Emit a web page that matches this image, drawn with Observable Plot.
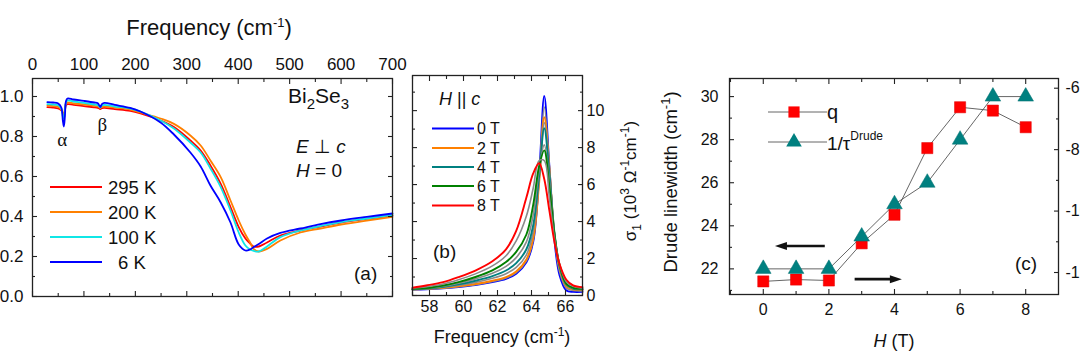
<!DOCTYPE html>
<html><head><meta charset="utf-8">
<script src="https://cdn.jsdelivr.net/npm/d3@7"></script>
<script src="https://cdn.jsdelivr.net/npm/@observablehq/plot@0.6"></script>
<style>
html,body{margin:0;padding:0;background:#fff;}
#wrap{position:relative;width:1080px;height:362px;overflow:hidden;background:#fff;}
#wrap svg{position:absolute;left:0;top:0;}
</style></head><body><div id="wrap"></div>
<script>
// ---------- Panel (a): reflectance vs frequency ----------
const freqA = [29,40,50,56,59,61,63,65,68,80,100,120,127,130,132,135,140,160,190,210,249,275,307,327,346,366,385,401,414,423,430,440,456,482,521,560,600,650,700];
const r295K = [0.947,0.945,0.94,0.93,0.915,0.91,0.93,0.955,0.962,0.958,0.952,0.946,0.943,0.94,0.937,0.942,0.943,0.937,0.928,0.915,0.88,0.847,0.78,0.73,0.655,0.563,0.447,0.347,0.29,0.265,0.25,0.25,0.27,0.305,0.33,0.35,0.37,0.388,0.405];
const r200K = [0.955,0.952,0.948,0.935,0.915,0.91,0.94,0.965,0.97,0.965,0.96,0.953,0.95,0.946,0.943,0.948,0.95,0.944,0.935,0.92,0.89,0.863,0.805,0.755,0.68,0.597,0.48,0.38,0.31,0.27,0.238,0.225,0.238,0.28,0.32,0.34,0.36,0.38,0.398];
const r100K = [0.962,0.96,0.956,0.94,0.9,0.89,0.925,0.97,0.98,0.975,0.968,0.96,0.957,0.95,0.945,0.955,0.958,0.95,0.94,0.925,0.88,0.84,0.77,0.72,0.64,0.547,0.43,0.32,0.255,0.235,0.228,0.225,0.25,0.297,0.33,0.352,0.372,0.39,0.408];
const r6K   = [0.972,0.97,0.965,0.945,0.88,0.85,0.90,0.975,0.99,0.985,0.978,0.97,0.966,0.955,0.947,0.962,0.968,0.958,0.943,0.925,0.87,0.81,0.72,0.65,0.555,0.47,0.37,0.26,0.23,0.235,0.247,0.262,0.29,0.318,0.34,0.362,0.38,0.398,0.415];
const tempLabels = ["295 K","200 K","100 K","6 K"];
const tempColors = ["#ff0000","#ff8000","#10e6e6","#0000ff"];
const freqTicksA = [0,100,200,300,400,500,600,700];
const reflTicks = [0,0.2,0.4,0.6,0.8,1.0];

// ---------- Panel (b): sigma_1 near the alpha phonon ----------
const freqB = [57,57.8,58.8,59.7,60.7,61.7,62.5,63.1,63.7,64.1,64.45,64.75,65.05,65.35,65.65,66.05,66.45,67];
const s0T = [0.32,0.34,0.39,0.46,0.56,0.72,0.90,1.18,1.80,2.90,6.5,10.8,7.0,3.0,1.1,0.27,0.2,0.2];
const s1T = [0.32,0.35,0.40,0.48,0.59,0.76,0.95,1.24,1.88,3.0,6.3,10.2,7.0,3.2,1.3,0.4,0.27,0.25];
const s2T = [0.33,0.36,0.42,0.50,0.62,0.80,1.00,1.30,1.95,3.10,6.1,9.65,6.9,3.3,1.5,0.5,0.33,0.3];
const s3T = [0.33,0.37,0.45,0.55,0.71,0.93,1.18,1.52,2.2,3.45,6.3,9.35,6.8,3.35,1.55,0.55,0.36,0.32];
const s4T = [0.34,0.38,0.47,0.60,0.80,1.05,1.35,1.75,2.50,3.80,6.5,9.05,6.6,3.4,1.6,0.6,0.38,0.33];
const s5T = [0.35,0.39,0.50,0.66,0.90,1.20,1.58,2.05,2.9,4.35,6.8,8.15,6.2,3.35,1.6,0.62,0.4,0.35];
const s6T = [0.36,0.40,0.54,0.72,1.00,1.36,1.81,2.36,3.30,4.90,7.0,7.85,5.9,3.3,1.65,0.63,0.42,0.36];
const s7T = [0.39,0.47,0.62,0.85,1.17,1.60,2.15,2.95,4.3,5.8,7.3,7.3,5.3,3.1,1.7,0.75,0.5,0.4];
const s8T = [0.42,0.54,0.72,0.99,1.35,1.85,2.50,3.50,5.30,6.60,7.15,6.3,4.6,2.9,1.7,0.85,0.55,0.45];
const fieldLabelsB = ["0 T","2 T","4 T","6 T","8 T"];
const fieldColorsB = ["#0000ff","#ff8000","#008080","#008000","#ff0000"];
const grayColor = "#8a8a8a";
const freqTicksB = [58,60,62,64,66];
const sigmaTicks = [0,2,4,6,8,10];

// ---------- Panel (c): q and Drude linewidth vs field ----------
const fieldC = [0,1,2,3,4,5,6,7,8];
const qFano = [-12.29,-12.23,-12.26,-11.05,-10.12,-7.95,-6.62,-6.73,-7.27];
const invTauDrude = [22,22,22,23.5,25,26,28,30,30];
const fieldTicksC = [0,2,4,6,8];
const widthTicks = [22,24,26,28,30];
const qTicks = [-6,-8,-10,-12];

const W = 1080, H = 362;
const FONT = '"Liberation Sans", Arial, Helvetica, sans-serif';
const SERIF = '"Liberation Serif", "Times New Roman", serif';
const wrap = document.getElementById("wrap");

function frameTicks(dim, anchor, major, minor, majorSize, minorSize) {
  const ax = dim === "x" ? Plot.axisX : Plot.axisY;
  return [
    ax(major, {anchor, tickSize: -majorSize, fill: "none", stroke: "#222", strokeWidth: 1.1}),
    ax(minor, {anchor, tickSize: -minorSize, fill: "none", stroke: "#222", strokeWidth: 1.1})
  ];
}

function addText(svg, x, y, parts, opts = {}) {
  const t = svg.append("text")
    .attr("x", x).attr("y", y)
    .attr("font-family", opts.family || FONT)
    .attr("font-size", opts.size || 17)
    .attr("fill", "#111")
    .attr("text-anchor", opts.anchor || "start");
  if (opts.rotate) t.attr("transform", `rotate(${opts.rotate},${x},${y})`);
  let shift = 0;
  for (const p of parts) {
    if (typeof p === "string") { const s = t.append("tspan").text(p); if (shift) { s.attr("dy", -shift); shift = 0; } continue; }
    const s = t.append("tspan").text(p.t);
    let target = p.sup ? -p.sup : p.sub ? p.sub : 0;
    if (target - shift) s.attr("dy", target - shift);
    shift = target;
    if (p.size) s.attr("font-size", p.size);
    if (p.italic) s.attr("font-style", "italic");
    if (p.family) s.attr("font-family", p.family);
  }
  return t;
}

// ===== Panel (a) =====
const seriesA = [r295K, r200K, r100K, r6K];
const pa = Plot.plot({
  width: W, height: H,
  marginLeft: 32, marginRight: W - 392, marginTop: 78, marginBottom: H - 296,
  style: {background: "transparent", fontFamily: FONT, fontSize: "17px", color: "#111"},
  x: {domain: [0, 700]},
  y: {domain: [0, 1.09]},
  marks: [
    ...seriesA.map((s, k) => Plot.line(s, {x: (d, i) => freqA[i], y: d => d, stroke: tempColors[k], strokeWidth: 1.8, curve: "catmull-rom"})),
    Plot.frame({stroke: "#222", strokeWidth: 1.3}),
    ...frameTicks("x", "bottom", freqTicksA, d3.range(50, 700, 100), 5, 3),
    ...frameTicks("x", "top", freqTicksA, d3.range(50, 700, 100), 5, 3),
    ...frameTicks("y", "left", reflTicks, d3.range(0.1, 1.09, 0.2), 5, 3),
    ...frameTicks("y", "right", reflTicks, d3.range(0.1, 1.09, 0.2), 5, 3),
    Plot.axisX(freqTicksA, {anchor: "top", tickSize: 0, tickPadding: 9, label: null, fontSize: 17}),
    Plot.axisY(reflTicks, {anchor: "left", tickSize: 0, tickPadding: 9, label: null, fontSize: 17, tickFormat: d3.format(".1f")})
  ]
});
wrap.appendChild(pa);
{
  const s = d3.select(pa);
  addText(s, 209, 35, ["Frequency (cm", {t: "-1", sup: 8, size: 13}, ")"], {size: 22, anchor: "middle"});
  addText(s, 288, 103, ["Bi", {t: "2", sub: 6, size: 15}, "Se", {t: "3", sub: 6, size: 15}], {size: 21});
  addText(s, 296, 153, [{t: "E", italic: true}, " \u22A5 ", {t: "c", italic: true}], {size: 19});
  addText(s, 296, 177, [{t: "H", italic: true}, " = 0"], {size: 19});
  addText(s, 354, 280, ["(a)"], {size: 19});
  const xa = pa.scale("x");
  addText(s, xa.apply(59), 146, ["\u03B1"], {size: 19, family: SERIF, anchor: "middle"});
  addText(s, xa.apply(137), 131, ["\u03B2"], {size: 19, family: SERIF, anchor: "middle"});
  const legY = [187, 212, 237, 262];
  const legX = [108, 108, 108, 118];
  tempLabels.forEach((lab, k) => {
    s.append("line").attr("x1", 50).attr("x2", 102).attr("y1", legY[k]).attr("y2", legY[k])
      .attr("stroke", tempColors[k]).attr("stroke-width", 2.2);
    addText(s, legX[k], legY[k] + 7, [lab], {size: 18.5});
  });
}

// ===== Panel (b) =====
const seriesB = [s0T, s1T, s2T, s3T, s4T, s5T, s6T, s7T, s8T];
const colorsB = [fieldColorsB[0], grayColor, fieldColorsB[1], grayColor, fieldColorsB[2], grayColor, fieldColorsB[3], grayColor, fieldColorsB[4]];
const pb = Plot.plot({
  width: W, height: H,
  marginLeft: 412, marginRight: W - 582, marginTop: 75, marginBottom: H - 295,
  style: {background: "transparent", fontFamily: FONT, fontSize: "16px", color: "#111"},
  x: {domain: [57, 67]},
  y: {domain: [0, 11.9]},
  marks: [
    ...seriesB.map((s, k) => Plot.line(s, {x: (d, i) => freqB[i], y: d => d, stroke: colorsB[k], strokeWidth: k % 2 ? 1.6 : 1.9, curve: "catmull-rom"})),
    Plot.frame({stroke: "#222", strokeWidth: 1.3}),
    ...frameTicks("x", "bottom", freqTicksB, d3.range(57, 67.1, 2), 5, 3),
    ...frameTicks("x", "top", freqTicksB, d3.range(57, 67.1, 2), 5, 3),
    ...frameTicks("y", "left", sigmaTicks, d3.range(1, 11.9, 2), 5, 3),
    ...frameTicks("y", "right", sigmaTicks, d3.range(1, 11.9, 2), 5, 3),
    Plot.axisX(freqTicksB, {anchor: "bottom", tickSize: 0, tickPadding: 5, label: null, fontSize: 16}),
    Plot.axisY(sigmaTicks, {anchor: "right", tickSize: 0, tickPadding: 4, label: null, fontSize: 16})
  ]
});
wrap.appendChild(pb);
{
  const s = d3.select(pb);
  addText(s, 502, 343, ["Frequency (cm", {t: "-1", sup: 7, size: 12}, ")"], {size: 18, anchor: "middle"});
  addText(s, 636, 181, ["\u03C3", {t: "1", sub: 5, size: 12}, " (10", {t: "3", sup: 7, size: 12}, " \u03A9", {t: "-1", sup: 7, size: 12}, "cm", {t: "-1", sup: 7, size: 12}, ")"], {size: 17, anchor: "middle", rotate: -90});
  addText(s, 439, 105, [{t: "H", italic: true}, " || ", {t: "c", italic: true}], {size: 18});
  const legY = [128.5, 148, 167, 186, 205.5];
  fieldLabelsB.forEach((lab, k) => {
    s.append("line").attr("x1", 432).attr("x2", 474).attr("y1", legY[k]).attr("y2", legY[k])
      .attr("stroke", fieldColorsB[k]).attr("stroke-width", 2);
    addText(s, 477, legY[k] + 5.5, [lab], {size: 16});
  });
  addText(s, 433, 258, ["(b)"], {size: 19});
}

// ===== Panel (c) =====
const yDomC = [20.81, 30.84];
const qToLeft = d3.scaleLinear().domain([-12.716, -5.684]).range(yDomC);
const pc = Plot.plot({
  width: W, height: H,
  marginLeft: 729, marginRight: W - 1058, marginTop: 78, marginBottom: H - 294,
  style: {background: "transparent", fontFamily: FONT, fontSize: "16px", color: "#111"},
  x: {domain: [-1.03, 9.0]},
  y: {domain: yDomC},
  marks: [
    Plot.line(fieldC, {x: d => d, y: (d, i) => qToLeft(qFano[i]), stroke: "#555", strokeWidth: 0.9}),
    Plot.line(fieldC, {x: d => d, y: (d, i) => invTauDrude[i], stroke: "#555", strokeWidth: 0.9}),
    Plot.dot(fieldC, {x: d => d, y: (d, i) => qToLeft(qFano[i]), symbol: "square", r: 6.3, fill: "#ff0000", stroke: "#e00000", strokeWidth: 0.5}),
    Plot.dot(fieldC, {x: d => d, y: (d, i) => invTauDrude[i], symbol: "triangle", r: 5.8, fill: "#008080", stroke: "#007070", strokeWidth: 0.5}),
    Plot.frame({stroke: "#222", strokeWidth: 1.3}),
    ...frameTicks("x", "bottom", fieldTicksC, [-1, 1, 3, 5, 7], 5, 3),
    ...frameTicks("x", "top", fieldTicksC, [-1, 1, 3, 5, 7], 5, 3),
    ...frameTicks("y", "left", widthTicks, [21, 23, 25, 27, 29], 5, 3),
    ...frameTicks("y", "right", qTicks.map(qToLeft), [-7, -9, -11].map(qToLeft), 5, 3),
    Plot.axisX(fieldTicksC, {anchor: "bottom", tickSize: 0, tickPadding: 9, label: null, fontSize: 16}),
    Plot.axisY(widthTicks, {anchor: "left", tickSize: 0, tickPadding: 11, label: null, fontSize: 16}),
    Plot.axisY(qTicks.map(qToLeft), {anchor: "right", tickSize: 0, tickPadding: 7, label: null, fontSize: 16, tickFormat: d => String(Math.round(qToLeft.invert(d)))})
  ]
});
wrap.appendChild(pc);
{
  const s = d3.select(pc);
  const xs = pc.scale("x"), ys = pc.scale("y");
  addText(s, 894, 347, [{t: "H", italic: true}, " (T)"], {size: 18, anchor: "middle"});
  addText(s, 677, 182, ["Drude linewidth (cm", {t: "-1", sup: 7, size: 13}, ")"], {size: 18.5, anchor: "middle", rotate: -90});
  // legend
  [[112, "square", "#ff0000", 6.3], [142, "triangle", "#008080", 5.8]].forEach(([y, sym, col, r]) => {
    s.append("line").attr("x1", 768).attr("x2", 827).attr("y1", y).attr("y2", y).attr("stroke", "#555").attr("stroke-width", 0.9);
    s.append("path").attr("transform", `translate(794,${y})`)
      .attr("d", d3.symbol(sym === "square" ? d3.symbolSquare : d3.symbolTriangle, Math.PI * r * r)())
      .attr("fill", col);
  });
  addText(s, 827, 119, ["q"], {size: 20});
  addText(s, 827, 150, ["1/\u03C4", {t: "Drude", sup: 10, size: 12}], {size: 19});
  // arrows (left -> left axis, right -> right axis)
  const arrow = (x1, x2, y) => {
    const dir = Math.sign(x2 - x1);
    s.append("line").attr("x1", x1).attr("x2", x2 - dir * 8).attr("y1", y).attr("y2", y).attr("stroke", "#111").attr("stroke-width", 2.6);
    s.append("path").attr("d", `M${x2},${y}L${x2 - dir * 12},${y - 4}L${x2 - dir * 12},${y + 4}Z`).attr("fill", "#111");
  };
  arrow(xs.apply(1.89), xs.apply(0.37), ys.apply(23.04));
  arrow(xs.apply(2.8), xs.apply(4.24), ys.apply(21.5));
  addText(s, 1015, 270, ["(c)"], {size: 19});
}
</script></body></html>
